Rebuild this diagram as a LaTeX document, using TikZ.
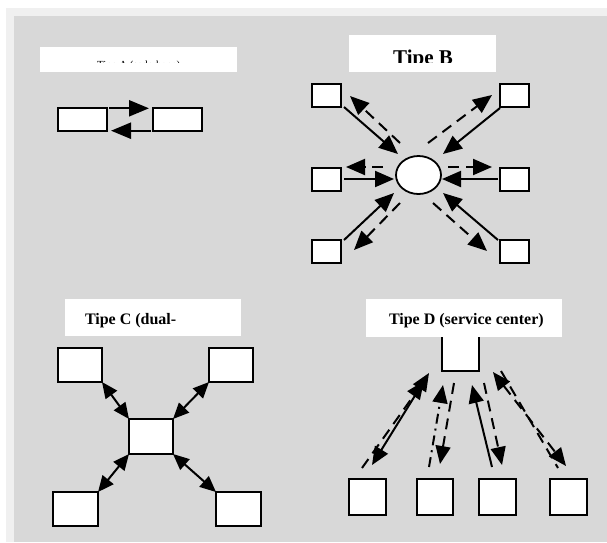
\documentclass[tikz,border=0pt]{standalone}
\usepackage{fontspec}
\setmainfont{Liberation Serif}
\usetikzlibrary{arrows.meta,shapes.geometric,calc}
\definecolor{outerg}{HTML}{F0F0F0}
\definecolor{panelg}{HTML}{D8D8D8}
\begin{document}
\begin{tikzpicture}[x=1pt,y=-1pt,
  box/.style={draw=black, fill=white, line width=2pt, inner sep=0pt, outer sep=0pt, rectangle},
  lbl/.style={fill=white, inner sep=0pt, outer sep=0pt, rectangle},
  ttl/.style={inner sep=0pt, outer sep=0pt, anchor=base west, font=\fontsize{16}{18}\selectfont\bfseries},
  tipA/.tip={Triangle[length=20pt,width=16pt]},
  tipB/.tip={Triangle[length=19pt,width=16pt]},
  tipC/.tip={Triangle[length=16pt,width=14pt]},
  tipD/.tip={Triangle[length=18pt,width=15pt]},
  ar/.style={line width=2pt, -tipB},
  ard/.style={line width=2pt, -tipD},
  arb/.style={line width=2pt, tipC-tipC},
  dsh/.style={dash pattern=on 11pt off 7pt},
  dshdot/.style={dash pattern=on 10pt off 5pt on 2pt off 5pt}
]
% background
\useasboundingbox (0,0) rectangle (607,542);
\fill[white] (0,0) rectangle (607,542);
\fill[outerg] (6,8) rectangle (607,542);
\fill[panelg] (14,16) rectangle (607,542);

% ---------- Tipe A ----------
\node[lbl, minimum width=197, minimum height=25] (labA) at (138.5,59.5) {};
\begin{scope}
  \clip (0,0) rectangle (607,62);
  \node[inner sep=0pt, anchor=base west, font=\fontsize{10.8}{12}\selectfont] (txtA) at (97,68.8) {Tipe A (sederhana)};
\end{scope}
\node[box, minimum width=49, minimum height=23] (a1) at (82.5,119.5) {};
\node[box, minimum width=49, minimum height=23] (a2) at (177.5,119.5) {};
\draw[line width=2.3pt, -tipA] ($(a1.north east)+(2,0.3)$) -- ($(a2.north west)+(-4,0.3)$);
\draw[line width=2.3pt, -tipA] ($(a2.south west)+(-2,-0.3)$) -- ($(a1.south east)+(4,-0.3)$);

% ---------- Tipe B ----------
\node[lbl, minimum width=147, minimum height=37] (labB) at (422.5,53.5) {};
\begin{scope}
  \clip (0,0) rectangle (607,62.3);
  \node[inner sep=0pt, anchor=base west, font=\fontsize{21}{24}\selectfont\bfseries] (txtB) at (393,64.3) {Tipe B};
\end{scope}
\node[draw=black, fill=white, line width=1.8pt, ellipse, inner sep=0pt, minimum width=45, minimum height=38] (hub) at (418.5,175) {};
\node[box, minimum width=29, minimum height=23] (btl) at (326.5,95.5) {};
\node[box, minimum width=29, minimum height=23] (btr) at (514,95.5) {};
\node[box, minimum width=29, minimum height=23] (bml) at (326.5,179.5) {};
\node[box, minimum width=29, minimum height=23] (bmr) at (514,179.5) {};
\node[box, minimum width=29, minimum height=23] (bbl) at (326.5,251) {};
\node[box, minimum width=29, minimum height=23] (bbr) at (514,251) {};

\draw[ar] (344,107) -- (398,154);
\draw[ar,dsh] (400,143) -- (350,96);
\draw[ar,dsh] (428,143) -- (492,95);
\draw[ar] (500,108) -- (443,154);
\draw[ar,dsh] (383,167) -- (346,167);
\draw[ar] (344,179) -- (394,179);
\draw[ar,dsh] (448,167) -- (492,167);
\draw[ar] (498,179) -- (442,179);
\draw[ar] (344,240) -- (394,193);
\draw[ar,dsh] (400,203) -- (354,250);
\draw[ar,dsh] (433,203) -- (487,251);
\draw[ar] (498,240) -- (443,193);

% ---------- Tipe C ----------
\node[lbl, minimum width=176, minimum height=37] (labC) at (153,317.5) {};
\node[ttl] (txtC) at (85,324) {Tipe C (dual-};
\node[box, minimum width=44, minimum height=34] (ctl) at (80,365) {};
\node[box, minimum width=44, minimum height=34] (ctr) at (231,365) {};
\node[box, minimum width=44, minimum height=35] (cc) at (151,436.5) {};
\node[box, minimum width=45, minimum height=34] (cbl) at (75.5,509) {};
\node[box, minimum width=45, minimum height=34] (cbr) at (238.5,509) {};
\draw[arb] (ctl.south east) -- (cc.north west);
\draw[arb] (ctr.south west) -- (cc.north east);
\draw[arb] (cc.south west) -- (cbl.north east);
\draw[arb] (cc.south east) -- (cbr.north west);

% ---------- Tipe D ----------
\node[box, minimum width=37, minimum height=37] (dtop) at (460.5,352.5) {};
\node[lbl, minimum width=196, minimum height=38] (labD) at (464,318) {};
\node[ttl] (txtD) at (389,324) {Tipe D (service center)};
\node[box, minimum width=37, minimum height=36] (d1) at (367.5,497) {};
\node[box, minimum width=36, minimum height=36] (d2) at (435,497) {};
\node[box, minimum width=37, minimum height=36] (d3) at (497.5,497) {};
\node[box, minimum width=37, minimum height=36] (d4) at (568.5,497) {};

\draw[line width=2pt, tipD-tipD] (372,465) -- (429,373);
\draw[ard,dsh] (362,468) -- (424,381);
\draw[ard,dshdot] (429,467) -- (443,385);
\draw[ard,dsh] (454,383) -- (440,464);
\draw[ard] (492,467) -- (472,385);
\draw[ard,dsh] (484,383) -- (502,465);
\draw[line width=2pt, dsh, tipD-tipD] (493,372) -- (566,466);
\draw[line width=2pt, dsh] (501,371) -- (558,468);
\end{tikzpicture}
\end{document}
